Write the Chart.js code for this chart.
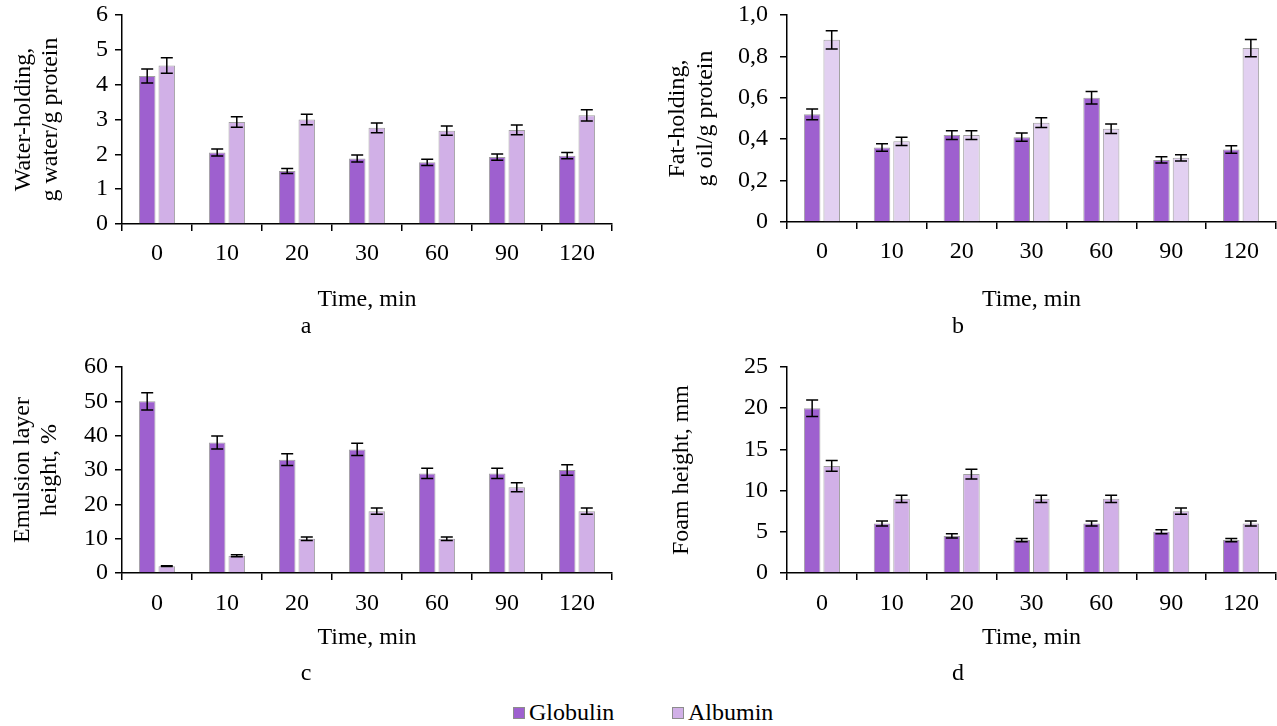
<!DOCTYPE html>
<html><head><meta charset="utf-8">
<script src="https://cdn.jsdelivr.net/npm/chart.js@4/dist/chart.umd.min.js"></script>
<style>
html,body{margin:0;padding:0;background:#fff;width:1277px;height:726px;overflow:hidden;position:relative;}
canvas{position:absolute;}
#legend{position:absolute;top:699px;left:0;width:1277px;height:27px;font:24px "Liberation Serif";color:#000;}
.item{position:absolute;top:0;height:27px;display:flex;align-items:center;}
.sw{width:10px;height:10px;border:1px solid #8c8c8c;margin-right:4px;}
</style></head><body>
<canvas id="ca" width="640" height="345" style="left:0;top:0"></canvas>
<canvas id="cb" width="637" height="345" style="left:640px;top:0"></canvas>
<canvas id="cc" width="640" height="345" style="left:0;top:345px"></canvas>
<canvas id="cd" width="637" height="345" style="left:640px;top:345px"></canvas>
<div id="legend"></div>
<script>
// ---- data ----
const timeLabels = ['0','10','20','30','60','90','120'];
const seriesNames = ['Globulin','Albumin'];

const waterGlobulin    = [4.25, 2.05, 1.52, 1.88, 1.77, 1.92, 1.96];
const waterGlobulinErr = [0.20, 0.10, 0.07, 0.10, 0.09, 0.09, 0.09];
const waterAlbumin     = [4.55, 2.93, 3.00, 2.76, 2.68, 2.70, 3.12];
const waterAlbuminErr  = [0.22, 0.15, 0.15, 0.14, 0.13, 0.14, 0.16];

const fatGlobulin    = [0.52, 0.36, 0.42, 0.41, 0.60, 0.30, 0.35];
const fatGlobulinErr = [0.026, 0.018, 0.021, 0.020, 0.030, 0.015, 0.018];
const fatAlbumin     = [0.88, 0.39, 0.42, 0.48, 0.45, 0.31, 0.84];
const fatAlbuminErr  = [0.044, 0.020, 0.021, 0.024, 0.023, 0.015, 0.042];

const emulGlobulin    = [50, 38, 33, 36, 29, 29, 30];
const emulGlobulinErr = [2.5, 1.9, 1.7, 1.8, 1.5, 1.5, 1.5];
const emulAlbumin     = [2, 5, 10, 18, 10, 25, 18];
const emulAlbuminErr  = [0.1, 0.3, 0.5, 0.9, 0.5, 1.3, 0.9];

const foamGlobulin    = [20, 6, 4.5, 4, 6, 5, 4];
const foamGlobulinErr = [1.0, 0.3, 0.25, 0.2, 0.3, 0.25, 0.2];
const foamAlbumin     = [13, 9, 12, 9, 9, 7.5, 6];
const foamAlbuminErr  = [0.65, 0.45, 0.6, 0.45, 0.45, 0.38, 0.3];

// ---- styling ----
const FONT = '"Liberation Serif", "Times New Roman", serif';
const FS = 24;
const cGlob = '#9e60cf';
const cAlb = '#d1b0e7';
const cAlbLight = '#e2d0f1';
const cBorder = '#a0a0a0';

const errorBars = {
  id: 'errorBars',
  afterDatasetsDraw(chart) {
    const ctx = chart.ctx;
    const y = chart.scales.y;
    ctx.save();
    ctx.strokeStyle = '#000';
    ctx.lineWidth = 1.5;
    chart.data.datasets.forEach((ds, di) => {
      const meta = chart.getDatasetMeta(di);
      meta.data.forEach((bar, i) => {
        const v = ds.data[i], e = ds.errors[i];
        const x = bar.x;
        const yt = y.getPixelForValue(v + e), yb = y.getPixelForValue(v - e);
        ctx.beginPath();
        ctx.moveTo(x, yt); ctx.lineTo(x, yb);
        ctx.moveTo(x - 6, yt); ctx.lineTo(x + 6, yt);
        ctx.moveTo(x - 6, yb); ctx.lineTo(x + 6, yb);
        ctx.stroke();
      });
    });
    ctx.restore();
  }
};

function makePanel(id, p) {
  return new Chart(document.getElementById(id), {
    type: 'bar',
    data: {
      labels: timeLabels,
      datasets: [
        {label: seriesNames[0], data: p.g, errors: p.ge, backgroundColor: cGlob, borderColor: cBorder, borderWidth: 1},
        {label: seriesNames[1], data: p.a, errors: p.ae, backgroundColor: p.albColor, borderColor: cBorder, borderWidth: 1}
      ]
    },
    options: {
      responsive: false,
      animation: false,
      categoryPercentage: 0.56,
      barPercentage: 0.845,
      layout: {padding: {top: p.top, right: p.right, left: 0, bottom: 0}},
      plugins: {
        legend: {display: false},
        tooltip: {enabled: false},
        title: {display: true, position: 'bottom', text: p.letter, color: '#000',
                font: {family: FONT, size: FS, weight: 'normal', lineHeight: 1.2},
                padding: {top: 0, bottom: p.letterPad}}
      },
      scales: {
        x: {
          afterFit: s => { s.height = p.xHeight; s.paddingLeft = 0; s.paddingRight = 0; },
          grid: {display: true, drawOnChartArea: false, drawTicks: true, tickLength: 7, color: '#000', lineWidth: 1.5, offset: true},
          border: {display: true, color: '#000', width: 1.5},
          ticks: {color: '#000', font: {family: FONT, size: FS}, padding: p.xtPad, maxRotation: 0},
          title: {display: true, text: 'Time, min', color: '#000', font: {family: FONT, size: FS, lineHeight: 1.0}, padding: {top: 0, bottom: p.timePad}}
        },
        y: {
          min: 0, max: p.max,
          afterFit: s => { s.width = p.yWidth; s.paddingTop = 0; s.paddingBottom = 0; },
          grid: {display: true, drawOnChartArea: false, drawTicks: true, tickLength: 7, color: '#000', lineWidth: 1.5},
          border: {display: true, color: '#000', width: 1.5},
          ticks: {color: '#000', stepSize: p.step, padding: p.ytickPad, font: {family: FONT, size: FS},
                  callback: p.fmt || (v => String(v))},
          title: {display: true, text: p.ytitle, color: '#000', font: {family: FONT, size: FS, lineHeight: 1.15}, padding: {top: p.ytPad, bottom: 0}}
        }
      }
    },
    plugins: [errorBars]
  });
}

makePanel('ca', {g: waterGlobulin, ge: waterGlobulinErr, a: waterAlbumin, ae: waterAlbuminErr, albColor: cAlb,
  max: 6, step: 1, ytitle: ['Water-holding,', 'g water/g protein'], letter: 'a',
  top: 15, right: 28, yWidth: 122, xHeight: 88.6, letterPad: 3.6, timePad: 0.6, ytPad: 9.5, xtPad: 8, ytickPad: 7});

makePanel('cb', {g: fatGlobulin, ge: fatGlobulinErr, a: fatAlbumin, ae: fatAlbuminErr, albColor: cAlbLight,
  max: 1, step: 0.2, ytitle: ['Fat-holding,', 'g oil/g protein'], letter: 'b',
  fmt: v => (v === 0 ? '0' : v.toFixed(1).replace('.', ',')),
  top: 15, right: 1, yWidth: 147, xHeight: 90.6, letterPad: 3.6, timePad: 0.6, ytPad: 24, xtPad: 8, ytickPad: 12});

makePanel('cc', {g: emulGlobulin, ge: emulGlobulinErr, a: emulAlbumin, ae: emulAlbuminErr, albColor: cAlb,
  max: 60, step: 10, ytitle: ['Emulsion layer', 'height, %'], letter: 'c',
  top: 22, right: 28, yWidth: 122, xHeight: 86.6, letterPad: 1.6, timePad: 9.6, ytPad: 8.5, xtPad: 9, ytickPad: 7});

makePanel('cd', {g: foamGlobulin, ge: foamGlobulinErr, a: foamAlbumin, ae: foamAlbuminErr, albColor: cAlb,
  max: 25, step: 5, ytitle: 'Foam height, mm', letter: 'd',
  top: 22, right: 1, yWidth: 147, xHeight: 86.6, letterPad: 1.6, timePad: 9.6, ytPad: 28, xtPad: 9, ytickPad: 12});

// ---- legend ----
const legend = document.getElementById('legend');
[[seriesNames[0], cGlob, 513], [seriesNames[1], cAlb, 672]].forEach(([name, col, left]) => {
  const it = document.createElement('div');
  it.className = 'item';
  it.style.left = left + 'px';
  const sw = document.createElement('span');
  sw.className = 'sw';
  sw.style.background = col;
  const tx = document.createElement('span');
  tx.textContent = name;
  it.appendChild(sw); it.appendChild(tx);
  legend.appendChild(it);
});
</script>
</body></html>
